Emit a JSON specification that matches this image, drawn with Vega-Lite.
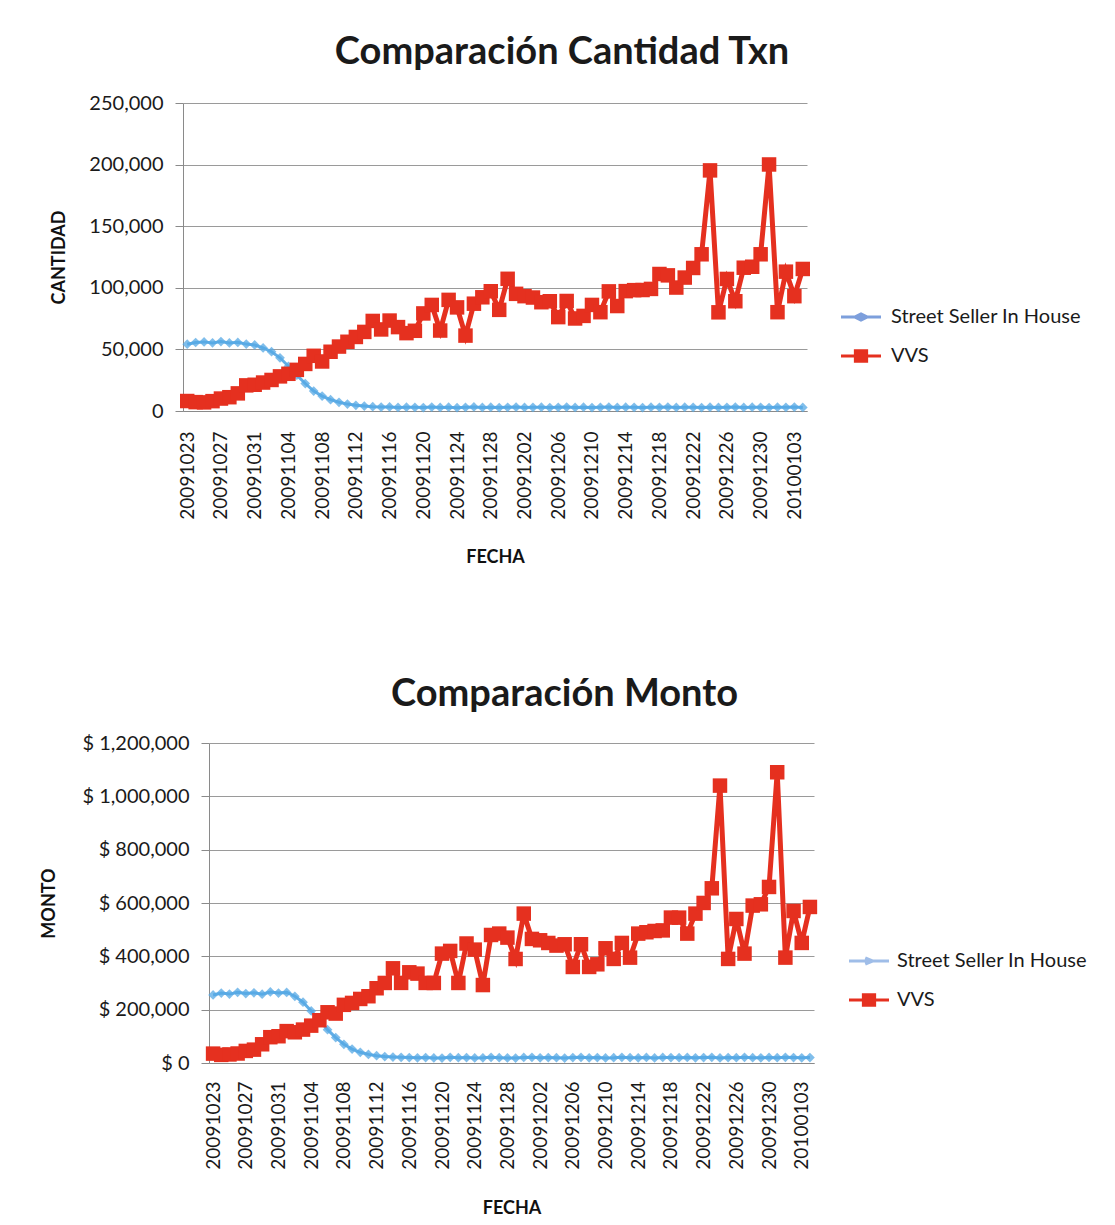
{
  "$schema": "https://vega.github.io/schema/vega-lite/v6.json",
  "background": "white",
  "padding": {"left": 40, "top": 34, "right": 5, "bottom": 5},
  "config": {
    "font": "Lato",
    "view": {"stroke": null},
    "axis": {"labelFont": "Lato", "titleFont": "Lato", "labelColor": "#1a1a1a", "titleColor": "#111111", "domainColor": "#8a8a8a", "tickColor": "#8a8a8a", "gridColor": "#9a9a9a", "gridWidth": 1}
  },
  "spacing": 109,
  "resolve": {"scale": {"color": "independent", "shape": "independent"}, "legend": {"color": "independent", "shape": "independent"}},
  "datasets": {
    "d": [
      {"fecha": "20091023", "cs": 54200, "cv": 8100, "ms": 255300, "mv": 35200},
      {"fecha": "20091024", "cs": 55600, "cv": 7200, "ms": 262100, "mv": 30400},
      {"fecha": "20091025", "cs": 56100, "cv": 7000, "ms": 258400, "mv": 32100},
      {"fecha": "20091026", "cs": 55300, "cv": 8000, "ms": 265200, "mv": 35600},
      {"fecha": "20091027", "cs": 56400, "cv": 10100, "ms": 260300, "mv": 45300},
      {"fecha": "20091028", "cs": 55200, "cv": 11200, "ms": 263400, "mv": 50100},
      {"fecha": "20091029", "cs": 55700, "cv": 14300, "ms": 258100, "mv": 70200},
      {"fecha": "20091030", "cs": 54300, "cv": 20800, "ms": 266300, "mv": 96800},
      {"fecha": "20091031", "cs": 53600, "cv": 21300, "ms": 262200, "mv": 100400},
      {"fecha": "20091101", "cs": 51200, "cv": 23100, "ms": 264800, "mv": 119600},
      {"fecha": "20091102", "cs": 48100, "cv": 25200, "ms": 250300, "mv": 115200},
      {"fecha": "20091103", "cs": 43200, "cv": 28100, "ms": 228100, "mv": 125300},
      {"fecha": "20091104", "cs": 36300, "cv": 30200, "ms": 195200, "mv": 140100},
      {"fecha": "20091105", "cs": 29100, "cv": 33400, "ms": 160300, "mv": 160400},
      {"fecha": "20091106", "cs": 22300, "cv": 38200, "ms": 125100, "mv": 190200},
      {"fecha": "20091107", "cs": 16200, "cv": 44800, "ms": 95200, "mv": 185300},
      {"fecha": "20091108", "cs": 12100, "cv": 40200, "ms": 70300, "mv": 218100},
      {"fecha": "20091109", "cs": 9200, "cv": 48100, "ms": 52200, "mv": 225300},
      {"fecha": "20091110", "cs": 7100, "cv": 52300, "ms": 40100, "mv": 240200},
      {"fecha": "20091111", "cs": 5600, "cv": 56200, "ms": 32300, "mv": 250400},
      {"fecha": "20091112", "cs": 4600, "cv": 60100, "ms": 27200, "mv": 280300},
      {"fecha": "20091113", "cs": 4000, "cv": 64200, "ms": 24100, "mv": 300200},
      {"fecha": "20091114", "cs": 3500, "cv": 73100, "ms": 22300, "mv": 355100},
      {"fecha": "20091115", "cs": 3200, "cv": 66200, "ms": 21100, "mv": 300400},
      {"fecha": "20091116", "cs": 3300, "cv": 73400, "ms": 20200, "mv": 340100},
      {"fecha": "20091117", "cs": 2900, "cv": 68100, "ms": 19300, "mv": 335200},
      {"fecha": "20091118", "cs": 3100, "cv": 63200, "ms": 20500, "mv": 300300},
      {"fecha": "20091119", "cs": 3000, "cv": 65100, "ms": 19100, "mv": 300100},
      {"fecha": "20091120", "cs": 2800, "cv": 79200, "ms": 18600, "mv": 410200},
      {"fecha": "20091121", "cs": 3200, "cv": 86100, "ms": 21200, "mv": 420300},
      {"fecha": "20091122", "cs": 2900, "cv": 65300, "ms": 19800, "mv": 300200},
      {"fecha": "20091123", "cs": 3100, "cv": 90200, "ms": 20300, "mv": 448100},
      {"fecha": "20091124", "cs": 2700, "cv": 84100, "ms": 18900, "mv": 425200},
      {"fecha": "20091125", "cs": 3000, "cv": 61200, "ms": 19600, "mv": 292300},
      {"fecha": "20091126", "cs": 3300, "cv": 87100, "ms": 21500, "mv": 480100},
      {"fecha": "20091127", "cs": 2900, "cv": 92300, "ms": 20100, "mv": 485300},
      {"fecha": "20091128", "cs": 3100, "cv": 97200, "ms": 19200, "mv": 470200},
      {"fecha": "20091129", "cs": 2800, "cv": 82100, "ms": 18400, "mv": 390100},
      {"fecha": "20091130", "cs": 3000, "cv": 107300, "ms": 20800, "mv": 560200},
      {"fecha": "20091201", "cs": 3200, "cv": 95100, "ms": 21300, "mv": 465300},
      {"fecha": "20091202", "cs": 2900, "cv": 93200, "ms": 19500, "mv": 460200},
      {"fecha": "20091203", "cs": 3000, "cv": 92100, "ms": 20200, "mv": 450100},
      {"fecha": "20091204", "cs": 3100, "cv": 88300, "ms": 19900, "mv": 440300},
      {"fecha": "20091205", "cs": 2800, "cv": 89100, "ms": 18700, "mv": 445200},
      {"fecha": "20091206", "cs": 3000, "cv": 76200, "ms": 20600, "mv": 360100},
      {"fecha": "20091207", "cs": 3200, "cv": 89300, "ms": 21100, "mv": 445300},
      {"fecha": "20091208", "cs": 2900, "cv": 75100, "ms": 19400, "mv": 360200},
      {"fecha": "20091209", "cs": 3100, "cv": 77200, "ms": 20300, "mv": 370100},
      {"fecha": "20091210", "cs": 2800, "cv": 86100, "ms": 18800, "mv": 430200},
      {"fecha": "20091211", "cs": 3000, "cv": 80200, "ms": 19700, "mv": 390300},
      {"fecha": "20091212", "cs": 3200, "cv": 97100, "ms": 21400, "mv": 450200},
      {"fecha": "20091213", "cs": 2900, "cv": 85200, "ms": 20100, "mv": 395100},
      {"fecha": "20091214", "cs": 3100, "cv": 97300, "ms": 19300, "mv": 485200},
      {"fecha": "20091215", "cs": 3000, "cv": 98100, "ms": 20700, "mv": 490300},
      {"fecha": "20091216", "cs": 2800, "cv": 98200, "ms": 18900, "mv": 495100},
      {"fecha": "20091217", "cs": 3100, "cv": 99100, "ms": 21000, "mv": 497200},
      {"fecha": "20091218", "cs": 3000, "cv": 111200, "ms": 20400, "mv": 545300},
      {"fecha": "20091219", "cs": 3200, "cv": 110100, "ms": 19800, "mv": 545100},
      {"fecha": "20091220", "cs": 2900, "cv": 100200, "ms": 20900, "mv": 485200},
      {"fecha": "20091221", "cs": 3100, "cv": 108300, "ms": 19500, "mv": 560100},
      {"fecha": "20091222", "cs": 3000, "cv": 116100, "ms": 20300, "mv": 600200},
      {"fecha": "20091223", "cs": 2800, "cv": 127200, "ms": 21200, "mv": 655100},
      {"fecha": "20091224", "cs": 3100, "cv": 195300, "ms": 19100, "mv": 1040200},
      {"fecha": "20091225", "cs": 2900, "cv": 80100, "ms": 20600, "mv": 390300},
      {"fecha": "20091226", "cs": 3000, "cv": 107200, "ms": 19900, "mv": 540100},
      {"fecha": "20091227", "cs": 3200, "cv": 89100, "ms": 21300, "mv": 410200},
      {"fecha": "20091228", "cs": 2900, "cv": 116300, "ms": 20100, "mv": 590300},
      {"fecha": "20091229", "cs": 3100, "cv": 117100, "ms": 19400, "mv": 595100},
      {"fecha": "20091230", "cs": 3000, "cv": 127200, "ms": 20800, "mv": 660200},
      {"fecha": "20091231", "cs": 2800, "cv": 200100, "ms": 19700, "mv": 1090300},
      {"fecha": "20100101", "cs": 3100, "cv": 80200, "ms": 21100, "mv": 395200},
      {"fecha": "20100102", "cs": 3000, "cv": 113100, "ms": 20200, "mv": 570100},
      {"fecha": "20100103", "cs": 3200, "cv": 93200, "ms": 19600, "mv": 450300},
      {"fecha": "20100104", "cs": 2900, "cv": 115300, "ms": 20500, "mv": 585200}
    ]
  },
  "vconcat": [
    {
      "title": {"text": "Comparación Cantidad Txn", "font": "Lato", "fontSize": 38, "fontWeight": "bold", "color": "#1a1a1a", "anchor": "middle", "dx": 67, "offset": 21},
      "width": 624,
      "height": 308,
      "data": {"name": "d"},
      "encoding": {
        "x": {
          "field": "fecha", "type": "ordinal", "title": "FECHA",
          "axis": {
            "values": ["20091023","20091027","20091031","20091104","20091108","20091112","20091116","20091120","20091124","20091128","20091202","20091206","20091210","20091214","20091218","20091222","20091226","20091230","20100103"],
            "labelAngle": 270, "labelFontSize": 19, "ticks": false, "labelPadding": 20, "titleFontSize": 18, "titleFontWeight": "bold", "titlePadding": 29, "grid": false
          }
        }
      },
      "layer": [
        {
          "mark": {"type": "line", "color": "#62aee6", "strokeWidth": 3},
          "encoding": {
            "y": {"field": "cs", "type": "quantitative", "title": "CANTIDAD",
              "scale": {"domain": [0, 250000], "nice": false},
              "axis": {"values": [0, 50000, 100000, 150000, 200000, 250000], "labelExpr": "format(datum.value, ',')", "labelFontSize": 20, "labelPadding": 12, "tickSize": 8, "titleFontSize": 18, "titleFontWeight": "bold", "titlePadding": 20, "grid": true}
            }
          }
        },
        {
          "mark": {"type": "point", "shape": "diamond", "filled": true, "size": 95, "opacity": 0.75, "color": "#55a8e4"},
          "encoding": {"y": {"field": "cs", "type": "quantitative", "title": "CANTIDAD"}}
        },
        {
          "mark": {"type": "line", "color": "#e5301f", "strokeWidth": 5},
          "encoding": {"y": {"field": "cv", "type": "quantitative", "title": "CANTIDAD"}}
        },
        {
          "mark": {"type": "point", "shape": "square", "filled": true, "size": 210, "opacity": 1, "color": "#e5301f"},
          "encoding": {"y": {"field": "cv", "type": "quantitative", "title": "CANTIDAD"}}
        },
        {
          "transform": [{"filter": "false"}],
          "mark": {"type": "point", "filled": false, "strokeWidth": 3, "opacity": 1},
          "encoding": {
            "color": {"field": "serie", "type": "nominal",
              "scale": {"domain": ["Street Seller In House", "VVS"], "range": ["#7d9fdc", "#e5301f"]},
              "legend": {"title": null, "orient": "none", "legendX": 664, "legendY": 200, "direction": "vertical", "labelFont": "Lato", "labelFontSize": 20, "labelColor": "#1a1a1a", "labelLimit": 400, "symbolSize": 625, "symbolStrokeWidth": 3, "symbolOpacity": 1, "labelOffset": 16, "rowPadding": 15}
            },
            "shape": {"field": "serie", "type": "nominal",
              "scale": {"domain": ["Street Seller In House", "VVS"], "range": ["M-1.6,0H1.6M-0.5,0L0,-0.25L0.5,0L0,0.25Z", "M-1.6,0H1.6M-0.45,-0.42H0.45V0.42H-0.45ZM-0.3,-0.28H0.3V0.28H-0.3ZM-0.15,-0.14H0.15V0.14H-0.15ZM-0.02,-0.02H0.02V0.02H-0.02Z"]},
              "legend": {"title": null, "orient": "none", "legendX": 664, "legendY": 200, "direction": "vertical", "labelFont": "Lato", "labelFontSize": 20, "labelColor": "#1a1a1a", "labelLimit": 400, "symbolSize": 625, "symbolStrokeWidth": 3, "symbolOpacity": 1, "labelOffset": 16, "rowPadding": 15}
            }
          }
        }
      ]
    },
    {
      "title": {"text": "Comparación Monto", "font": "Lato", "fontSize": 38, "fontWeight": "bold", "color": "#1a1a1a", "anchor": "middle", "dx": 66, "offset": 19},
      "width": 631,
      "height": 320,
      "data": {"name": "d"},
      "encoding": {
        "x": {
          "field": "fecha", "type": "ordinal", "title": "FECHA",
          "scale": {"range": [26, 631]},
          "axis": {
            "values": ["20091023","20091027","20091031","20091104","20091108","20091112","20091116","20091120","20091124","20091128","20091202","20091206","20091210","20091214","20091218","20091222","20091226","20091230","20100103"],
            "labelAngle": 270, "labelFontSize": 19, "ticks": false, "labelPadding": 18, "titleFontSize": 18, "titleFontWeight": "bold", "titlePadding": 30, "grid": false
          }
        }
      },
      "layer": [
        {
          "mark": {"type": "line", "color": "#62aee6", "strokeWidth": 3},
          "encoding": {
            "y": {"field": "ms", "type": "quantitative", "title": "MONTO",
              "scale": {"domain": [0, 1200000], "nice": false},
              "axis": {"values": [0, 200000, 400000, 600000, 800000, 1000000, 1200000], "labelExpr": "'$ ' + format(datum.value, ',')", "labelFontSize": 20, "labelPadding": 12, "tickSize": 8, "titleFontSize": 18, "titleFontWeight": "bold", "titlePadding": 24, "grid": true, "offset": -26}
            }
          }
        },
        {
          "mark": {"type": "point", "shape": "diamond", "filled": true, "size": 95, "opacity": 0.75, "color": "#55a8e4"},
          "encoding": {"y": {"field": "ms", "type": "quantitative", "title": "MONTO"}}
        },
        {
          "mark": {"type": "line", "color": "#e5301f", "strokeWidth": 5},
          "encoding": {"y": {"field": "mv", "type": "quantitative", "title": "MONTO"}}
        },
        {
          "mark": {"type": "point", "shape": "square", "filled": true, "size": 210, "opacity": 1, "color": "#e5301f"},
          "encoding": {"y": {"field": "mv", "type": "quantitative", "title": "MONTO"}}
        },
        {
          "transform": [{"filter": "false"}],
          "mark": {"type": "point", "filled": false, "strokeWidth": 3, "opacity": 1},
          "encoding": {
            "color": {"field": "serie", "type": "nominal",
              "scale": {"domain": ["Street Seller In House", "VVS"], "range": ["#9fbde8", "#e5301f"]},
              "legend": {"title": null, "orient": "none", "legendX": 672, "legendY": 204, "direction": "vertical", "labelFont": "Lato", "labelFontSize": 20, "labelColor": "#1a1a1a", "labelLimit": 400, "symbolSize": 625, "symbolStrokeWidth": 3, "symbolOpacity": 1, "labelOffset": 14, "rowPadding": 15}
            },
            "shape": {"field": "serie", "type": "nominal",
              "scale": {"domain": ["Street Seller In House", "VVS"], "range": ["M-1.6,0H1.6M-0.3,-0.25L0.3,0L-0.3,0.25", "M-1.6,0H1.6M-0.45,-0.42H0.45V0.42H-0.45ZM-0.3,-0.28H0.3V0.28H-0.3ZM-0.15,-0.14H0.15V0.14H-0.15ZM-0.02,-0.02H0.02V0.02H-0.02Z"]},
              "legend": {"title": null, "orient": "none", "legendX": 672, "legendY": 204, "direction": "vertical", "labelFont": "Lato", "labelFontSize": 20, "labelColor": "#1a1a1a", "labelLimit": 400, "symbolSize": 625, "symbolStrokeWidth": 3, "symbolOpacity": 1, "labelOffset": 14, "rowPadding": 15}
            }
          }
        }
      ]
    }
  ]
}
